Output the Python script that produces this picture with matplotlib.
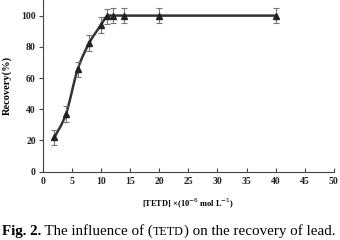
import matplotlib
matplotlib.use("Agg")
import matplotlib.pyplot as plt
import numpy as np
from matplotlib.path import Path
from matplotlib.patches import PathPatch

conc = [2, 4, 6, 8, 10, 11, 12, 14, 20, 40]
recovery = [22, 37, 65.5, 82.5, 94, 99.5, 100, 100, 100, 100]
err = [5, 5, 5, 5, 5, 5, 5, 5, 5, 5]
xticks = [0, 5, 10, 15, 20, 25, 30, 35, 40, 45, 50]
yticks = [0, 20, 40, 60, 80, 100]

plt.rcParams['font.family'] = ['Liberation Serif', 'DejaVu Serif']

fig = plt.figure(figsize=(3.4, 2.4), dpi=100)
ax = fig.add_axes([0.1256, 0.2846, 0.8564, 0.7154])

# smoothed line (Catmull-Rom -> Bezier) through data points, like Excel smoothing
x = np.array(conc, float); y = np.array(recovery, float)
verts = [(x[0], y[0])]; codes = [Path.MOVETO]
n = len(x)
for i in range(n - 1):
    p0 = (x[i-1], y[i-1]) if i > 0 else (x[i], y[i])
    p1 = (x[i], y[i]); p2 = (x[i+1], y[i+1])
    p3 = (x[i+2], y[i+2]) if i + 2 < n else (x[i+1], y[i+1])
    c1 = (p1[0] + (p2[0]-p0[0])/6, p1[1] + (p2[1]-p0[1])/6)
    c2 = (p2[0] - (p3[0]-p1[0])/6, p2[1] - (p3[1]-p1[1])/6)
    verts += [c1, c2, p2]; codes += [Path.CURVE4]*3
ax.add_patch(PathPatch(Path(verts, codes), fill=False, lw=1.8, color='#333333', zorder=2))

ax.errorbar(conc, recovery, yerr=err, fmt='^', color='#222222', ms=5,
            ecolor='#777777', elinewidth=0.8, capsize=2, capthick=0.8, zorder=3)

ax.set_xlim(0, 50)
ax.set_ylim(0, 110)
ax.set_xticks(xticks)
ax.set_yticks(yticks)
for s in ['top', 'right']:
    ax.spines[s].set_visible(False)
for s in ['left', 'bottom']:
    ax.spines[s].set_color('#444444')
    ax.spines[s].set_linewidth(0.8)
ax.tick_params(axis='x', direction='in', length=3, width=0.8, color='#444444', labelsize=7, pad=4)
ax.tick_params(axis='y', direction='out', length=3, width=0.8, color='#444444', labelsize=7, pad=2)
for lab in ax.get_xticklabels() + ax.get_yticklabels():
    lab.set_fontweight('bold')
    lab.set_color('#222222')

ax.set_ylabel('Recovery(%)', fontsize=7.5, fontweight='bold', labelpad=7)
ax.set_xlabel(r'[TETD] ×(10$^{-6}$ mol L$^{-1}$)', fontsize=6, fontweight='bold', labelpad=8)

yb = 0.022
fs = 10.8
t1 = fig.text(0.006, yb, 'Fig. 2.', fontsize=fs, fontweight='bold', va='baseline')
fig.canvas.draw()
x0 = t1.get_window_extent().x1 / fig.bbox.width
t2 = fig.text(x0, yb, ' The influence of (', fontsize=fs, va='baseline')
fig.canvas.draw()
x1 = t2.get_window_extent().x1 / fig.bbox.width
t3 = fig.text(x1, yb, 'TETD', fontsize=fs * 0.8, va='baseline')
fig.canvas.draw()
x2 = t3.get_window_extent().x1 / fig.bbox.width
fig.text(x2, yb, ') on the recovery of lead.', fontsize=fs, va='baseline')

fig.savefig('out.png', dpi=100)
